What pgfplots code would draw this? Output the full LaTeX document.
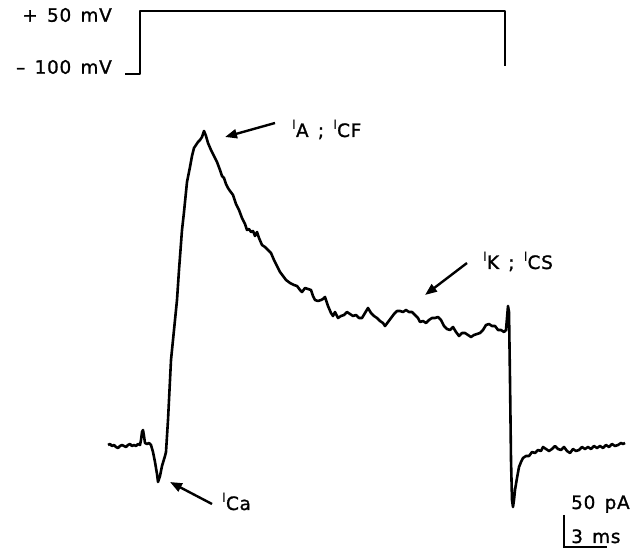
\documentclass[border=0pt]{standalone}
\usepackage{pgfplots}
\pgfplotsset{compat=1.18}
\usepackage{fontspec}
\setmainfont{DejaVu Sans}
\newfontfamily\labfont{DejaVu Sans}[LetterSpace=4, WordSpace=1.4, FakeBold=1.2]
\usetikzlibrary{arrows.meta}
\newcommand{\lbl}{\labfont\fontsize{18.5}{22}\selectfont}
\newcommand{\cur}[1]{\raisebox{7.5bp}{\normalfont\fontsize{13}{13}\selectfont I}#1}
\begin{document}
\begin{tikzpicture}
\begin{axis}[scale only axis, width=638bp, height=550bp,
  xmin=0, xmax=638, ymin=0, ymax=550, y dir=reverse,
  hide axis, clip=false]
\addplot[draw=none] coordinates {(0,0) (638,550)};
% voltage step
\addplot[black, line width=2.5bp, line join=round] coordinates {(125,74)(140,74)(140,11)(505,11)(505,66)};
% current trace
\addplot[black, line width=2.6bp, line join=round] coordinates {
(108,445)(110,444)(112,446)(114,445)(116,447)(118,448)(120,446)(122,445)(124,446)(126,447)(128,445)(130,444)(132,446)(134,445)(136,446)(138,444)(140,445)(141,440)(142,432)(143,430)(144,436)(145,443)(147,444)(149,443)(151,445)(153,452)(155,462)(157,474)(158,482)(160,476)(162,466)(165,456)(166,452)(168,420)(171,360)(174,330)(177,300)(179,270)(182,230)(184,212)(187,182)(190,167)(192,156)(194,148)(196,145)(198,142)(200,140)(202,137)(204,131)(206,136)(208,143)(211,150)(214,156)(217,162)(220,170)(222,176)(224,178)(226,184)(228,188)(230,191)(233,195)(236,204)(239,210)(242,218)(245,224)(247,230)(249,229)(251,232)(253,231)(255,236)(257,232)(259,238)(262,245)(265,247)(268,250)(271,253)(274,260)(277,266)(280,272)(283,276)(286,280)(290,283)(294,285)(297,286)(300,290)(302,292)(305,288)(308,289)(311,290)(313,296)(315,300)(318,301)(321,300)(323,299)(325,297)(328,306)(331,313)(333,316)(335,312)(338,318)(341,316)(344,315)(347,312)(350,314)(353,316)(356,315)(359,318)(362,318)(365,313)(368,308)(371,313)(374,316)(377,318)(380,321)(383,323)(385,326)(388,322)(391,318)(394,314)(397,311)(400,311)(403,312)(406,310)(409,312)(412,312)(415,315)(418,318)(420,322)(423,321)(426,323)(429,320)(432,318)(435,318)(438,317)(441,320)(444,326)(447,329)(450,330)(453,327)(456,332)(459,336)(462,333)(465,333)(468,335)(471,337)(474,335)(477,334)(480,333)(483,330)(486,325)(489,324)(492,326)(495,326)(498,330)(501,330)(504,332)(506,330)(507,318)(508,306)(509,312)(510,380)(511,460)(512,500)(513,507)(514,500)(515,490)(517,478)(519,467)(521,462)(523,458)(526,456)(529,456)(532,452)(535,453)(538,450)(541,451)(543,447)(546,449)(549,451)(552,449)(555,446)(558,449)(561,450)(564,447)(567,451)(570,453)(573,449)(576,451)(579,450)(582,447)(585,449)(588,447)(591,449)(594,446)(597,448)(600,446)(603,448)(606,445)(609,447)(612,444)(615,446)(618,445)(621,443)(623,444)(625,443)
};
% scale bar
\addplot[black, line width=2bp] coordinates {(564,515)(564,547)(607,547)};
% labels
\node[anchor=east, inner sep=0, font=\lbl] at (axis cs:112,15) {+ 50 mV};
\node[anchor=east, inner sep=0, font=\lbl] at (axis cs:112,67) {– 100 mV};
\node[anchor=base west, inner sep=0, font=\lbl] at (axis cs:292,137) {\cur{A} ; \cur{CF}};
\node[anchor=base west, inner sep=0, font=\lbl] at (axis cs:483,269) {\cur{K} ; \cur{CS}};
\node[anchor=base west, inner sep=0, font=\lbl] at (axis cs:222,510) {\cur{Ca}};
\node[anchor=base west, inner sep=0, font=\lbl] at (axis cs:571,509) {50 pA};
\node[anchor=base west, inner sep=0, font=\lbl] at (axis cs:571,543) {3 ms};
% arrows
\draw[-{Triangle[length=12bp,width=9bp]}, line width=2.4bp] (axis cs:275,123) -- (axis cs:225,137);
\draw[-{Triangle[length=12bp,width=9bp]}, line width=2.4bp] (axis cs:467,263) -- (axis cs:425,295);
\draw[-{Triangle[length=12bp,width=9bp]}, line width=2.4bp] (axis cs:212,504) -- (axis cs:170,482);
\end{axis}
\end{tikzpicture}
\end{document}
